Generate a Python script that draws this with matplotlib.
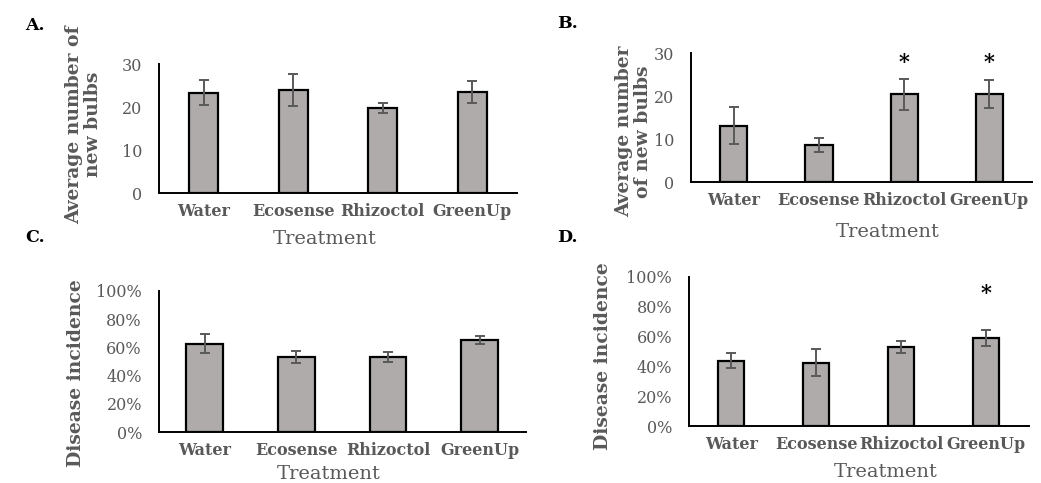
import matplotlib
matplotlib.use('Agg')
import matplotlib.pyplot as plt
import numpy as np
from matplotlib.ticker import PercentFormatter

# Data
treatments = ['Water', 'Ecosense', 'Rhizoctol', 'GreenUp']

bulbs_a = [23.3, 24.0, 19.8, 23.5]
bulbs_a_err = [2.9, 3.8, 1.2, 2.5]

bulbs_b = [13.2, 8.7, 20.5, 20.5]
bulbs_b_err = [4.2, 1.6, 3.6, 3.2]

incidence_c = [0.624, 0.534, 0.534, 0.652]
incidence_c_err = [0.067, 0.042, 0.035, 0.028]

incidence_d = [0.439, 0.425, 0.530, 0.590]
incidence_d_err = [0.052, 0.092, 0.037, 0.053]

# significance marks: (category index, height)
stars_b = [(2, 27.9), (3, 27.9)]
stars_d = [(3, 0.889)]

plt.rcParams['font.family'] = 'DejaVu Serif'

bar_color = '#afabab'
err_color = '#595959'
text_gray = '#595959'

fig = plt.figure(figsize=(10.41, 4.83), dpi=100)

ax_a = fig.add_axes([0.1527, 0.6004, 0.344, 0.267])
ax_b = fig.add_axes([0.6638, 0.6226, 0.3276, 0.267])
ax_c = fig.add_axes([0.1524, 0.1050, 0.3525, 0.293])
ax_d = fig.add_axes([0.6616, 0.1174, 0.3266, 0.3097])


def draw_panel(ax, vals, errs, width, ylim, yticks, ylabel, ylab_xy, xlab_xy, pct=False):
    x = np.arange(len(treatments))
    ax.bar(x, vals, width, color=bar_color, edgecolor='black', linewidth=1.6, zorder=2)
    ax.errorbar(x, vals, yerr=errs, fmt='none', ecolor=err_color, elinewidth=1.4,
                capsize=3.6, capthick=1.4, zorder=3)
    ax.set_xlim(-0.5, 3.5)
    ax.set_ylim(*ylim)
    ax.set_yticks(yticks)
    if pct:
        ax.yaxis.set_major_formatter(PercentFormatter(1, decimals=0))
    ax.set_xticks(x)
    ax.set_xticklabels(treatments, fontsize=11.5, fontweight='semibold', color=text_gray)
    ax.tick_params(axis='y', length=0, pad=12, labelsize=11.5, labelcolor=text_gray)
    ax.tick_params(axis='x', length=0, pad=7)
    for s in ['top', 'right']:
        ax.spines[s].set_visible(False)
    for s in ['left', 'bottom']:
        ax.spines[s].set_linewidth(1.4)
        ax.spines[s].set_color('black')
    ax.set_ylabel(ylabel, fontsize=13.5, fontweight='semibold', color=text_gray, linespacing=1.05)
    ax.yaxis.set_label_coords(*ylab_xy)
    ax.set_xlabel('Treatment', fontsize=14, color=text_gray)
    ax.xaxis.set_label_coords(*xlab_xy)


draw_panel(ax_a, bulbs_a, bulbs_a_err, 0.32, (0, 30), [0, 10, 20, 30],
           'Average number of\nnew bulbs', (-0.159, 0.53), (0.464, -0.287))
draw_panel(ax_b, bulbs_b, bulbs_b_err, 0.32, (0, 30), [0, 10, 20, 30],
           'Average number\nof new bulbs', (-0.115, 0.394), (0.576, -0.316))
draw_panel(ax_c, incidence_c, incidence_c_err, 0.40, (0, 1), np.arange(0, 1.01, 0.2),
           'Disease incidence', (-0.20, 0.415), (0.464, -0.231), pct=True)
draw_panel(ax_d, incidence_d, incidence_d_err, 0.31, (0, 1), np.arange(0, 1.01, 0.2),
           'Disease incidence', (-0.226, 0.467), (0.58, -0.247), pct=True)

for i, h in stars_b:
    ax_b.text(i, h, '*', ha='center', va='center', fontsize=15, fontweight='bold')
for i, h in stars_d:
    ax_d.text(i, h, '*', ha='center', va='center', fontsize=15, fontweight='bold')

# panel letters
for lbl, xx, yy in [('A.', 25, 25), ('B.', 557, 23), ('C.', 25, 238), ('D.', 557, 238)]:
    fig.text(xx / 1041, 1 - yy / 483, lbl, fontsize=12.5, fontweight='bold',
             ha='left', va='center')

fig.savefig('out.png', dpi=100)
